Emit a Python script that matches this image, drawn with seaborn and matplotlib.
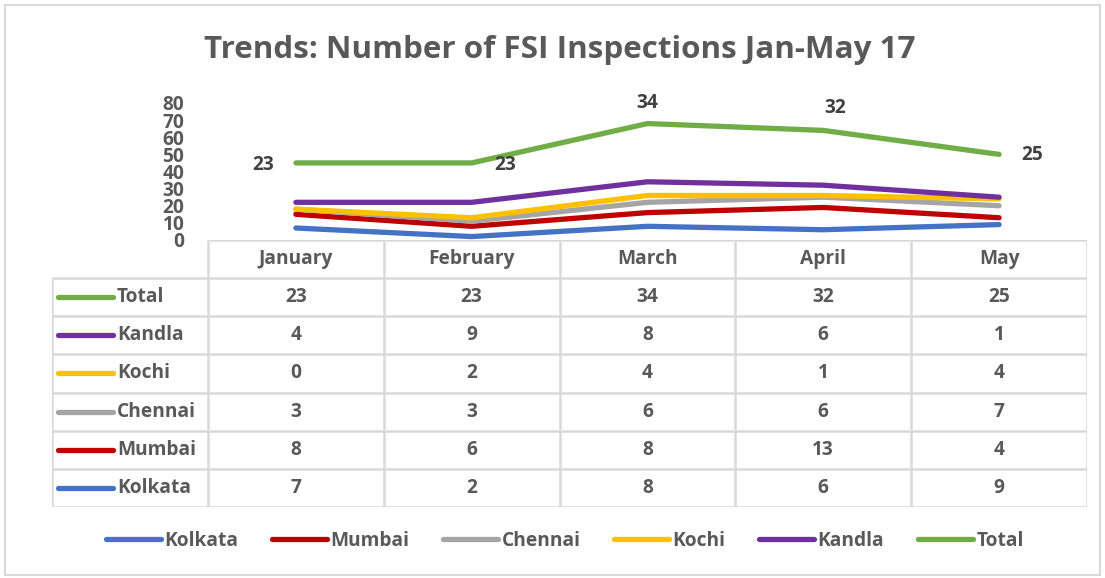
import os
import numpy as np
import pandas as pd
import seaborn as sns
import matplotlib
matplotlib.use("Agg")
import matplotlib.pyplot as plt
from matplotlib.lines import Line2D
from matplotlib.patches import Rectangle
from matplotlib import font_manager as fm

# ---------------- data ----------------
months = ["January", "February", "March", "April", "May"]
series_names = ["Kolkata", "Mumbai", "Chennai", "Kochi", "Kandla", "Total"]
kolkata = [7, 2, 8, 6, 9]
mumbai = [8, 6, 8, 13, 4]
chennai = [3, 3, 6, 6, 7]
kochi = [0, 2, 4, 1, 4]
kandla = [4, 9, 8, 6, 1]
total = [23, 23, 34, 32, 25]
yticks = [0, 10, 20, 30, 40, 50, 60, 70, 80]
colors = ["#4472C4", "#C00000", "#A5A5A5", "#FFC000", "#7030A0", "#70AD47"]
table_order = ["Total", "Kandla", "Kochi", "Chennai", "Mumbai", "Kolkata"]
title = "Trends: Number of FSI Inspections Jan-May 17"

values = {"Kolkata": kolkata, "Mumbai": mumbai, "Chennai": chennai,
          "Kochi": kochi, "Kandla": kandla, "Total": total}

stack = np.cumsum(np.array([values[s] for s in series_names]), axis=0)
rows = []
for si, s in enumerate(series_names):
    for mi, m in enumerate(months):
        rows.append({"series": s, "pos": mi, "month": m,
                     "value": values[s][mi], "stacked": stack[si, mi]})
df = pd.DataFrame(rows)

# ---------------- style ----------------
sns.set_theme(style="white")


def find_bold_file():
    prefs = ["Open Sans", "Noto Sans", "Lato", "Roboto", "Liberation Sans", "DejaVu Sans"]
    for fam in prefs:
        for f in fm.fontManager.ttflist:
            base = os.path.basename(f.fname).lower()
            if f.name != fam:
                continue
            if "italic" in base or "semi" in base or "extra" in base or "condensed" in base:
                continue
            if base.endswith(("-bold.ttf", "-bold.otf", "_bold.ttf")):
                return f.fname
    return None


BOLD_FILE = find_bold_file()


def bp(size):
    if BOLD_FILE:
        return fm.FontProperties(fname=BOLD_FILE, size=size)
    return fm.FontProperties(family="DejaVu Sans", weight="bold", size=size)


plt.rcParams['font.family'] = ['Open Sans', 'DejaVu Sans']
GREY = "#595959"
DARK = "#404040"
GRID = "#D9D9D9"
FS = 13.8

W, H = 1105, 578
fig = plt.figure(figsize=(W / 100, H / 100), dpi=100)
fig.patch.set_facecolor("white")


def fx(px):
    return px / W


def fy(py):
    return 1 - py / H


# ---------------- main line axes ----------------
ax = fig.add_axes([fx(208), fy(240), fx(1087) - fx(208), fy(103) - fy(240)])
sns.lineplot(data=df, x="pos", y="stacked", hue="series", hue_order=series_names,
             palette=colors, linewidth=3.8, legend=False, ax=ax, sort=False,
             solid_capstyle="round", clip_on=False)
ax.set_xlim(-0.5, 4.5)
ax.set_ylim(0, 80)
ax.set_xticks([])
ax.set_yticks(yticks)
ax.set_yticklabels([str(t) for t in yticks], color=GREY)
for lab in ax.get_yticklabels():
    lab.set_fontproperties(bp(FS))
ax.tick_params(axis="y", length=0, pad=17)
ax.set_xlabel("")
ax.set_ylabel("")
for sp in ax.spines.values():
    sp.set_visible(False)
ax.patch.set_alpha(0)

label_offsets = [(-33, -2), (33, -2), (0, 21), (12, 22), (33, -1)]
tot_idx = series_names.index("Total")
for mi in range(len(months)):
    ax.annotate(str(total[mi]), (mi, stack[tot_idx, mi]), xytext=label_offsets[mi],
                textcoords="offset pixels", ha="center", va="center",
                fontproperties=bp(FS), color=DARK, annotation_clip=False)

# ---------------- data table ----------------
col_w = 176.0
xL = -0.5 - (208 - 52) / col_w
tab = fig.add_axes([fx(52), fy(507), fx(1087) - fx(52), fy(240) - fy(507)])
tab.set_xlim(xL, 4.5)
tab.set_ylim(7, 0)
tab.axis("off")
nrow = len(table_order) + 1
tab.hlines(0, -0.5, 4.5, color=GRID, lw=1.8)
for r in range(1, nrow + 1):
    tab.hlines(r, xL, 4.5, color=GRID, lw=1.8)
tab.vlines(xL, 1, nrow, color=GRID, lw=1.8)
for k in range(len(months) + 1):
    tab.vlines(-0.5 + k, 0, nrow, color=GRID, lw=1.8)

for mi, m in enumerate(months):
    tab.text(mi, 0.5, m, ha="center", va="center", fontproperties=bp(FS), color=GREY)

for r, s in enumerate(table_order):
    y = r + 1.5
    c = colors[series_names.index(s)]
    tab.plot([xL + (58 - 52) / col_w, xL + (113 - 52) / col_w], [y, y], color=c,
             lw=3.8, solid_capstyle="round")
    tab.text(xL + (117 - 52) / col_w, y, s, ha="left", va="center",
             fontproperties=bp(FS), color=GREY)
    for mi in range(len(months)):
        tab.text(mi, y, str(values[s][mi]), ha="center", va="center",
                 fontproperties=bp(FS), color=GREY)

# ---------------- bottom legend ----------------
handles = [Line2D([0], [0], color=c, lw=3.8, solid_capstyle="round") for c in colors]
fig.legend(handles, series_names, loc="center", bbox_to_anchor=(fx(565), fy(541)),
           ncol=6, frameon=False, handlelength=2.85, handletextpad=0.2,
           columnspacing=1.75, prop=bp(FS), labelcolor=GREY)

# ---------------- title & border ----------------
ttl = fig.text(fx(560), fy(50), title, ha="center", va="center",
               fontproperties=bp(22), color=GREY)
renderer = fig.canvas.get_renderer()
w = ttl.get_window_extent(renderer).width
ttl.set_fontsize(22 * 710.0 / w)

fig.patches.append(Rectangle((fx(5), fy(575)), fx(1100) - fx(5), fy(5) - fy(575),
                             transform=fig.transFigure, fill=False, ec=GRID, lw=1.5))

fig.savefig("out.png", dpi=100)
